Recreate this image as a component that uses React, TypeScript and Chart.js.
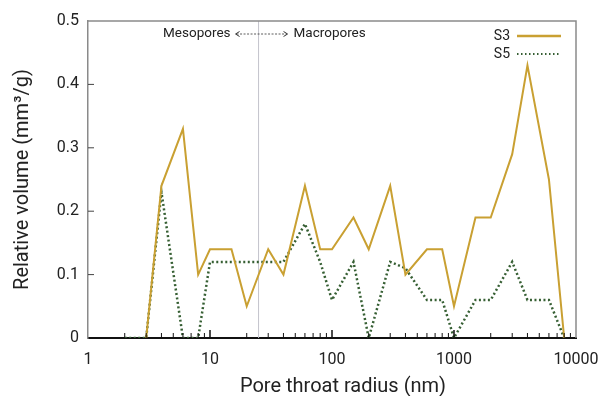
import React, { useEffect, useRef } from "react";
import { Chart, registerables } from "chart.js";

Chart.register(...registerables);

const radii = [2, 3, 4, 6, 8, 10, 15, 20, 30, 40, 60, 80, 100, 150, 200, 300, 400, 600, 800, 1000, 1500, 2000, 3000, 4000, 6000, 8000];
const s3Values = [null, 0, 0.24, 0.33, 0.1, 0.14, 0.14, 0.05, 0.14, 0.1, 0.24, 0.14, 0.14, 0.19, 0.14, 0.24, 0.1, 0.14, 0.14, 0.05, 0.19, 0.19, 0.29, 0.43, 0.25, 0];
const s5Values = [0, 0, 0.23, 0, 0, 0.12, 0.12, 0.12, 0.12, 0.12, 0.18, 0.12, 0.06, 0.12, 0, 0.12, 0.11, 0.06, 0.06, 0, 0.06, 0.06, 0.12, 0.06, 0.06, 0];
const xTickLabels = [1, 10, 100, 1000, 10000];
const yTickValues = [0, 0.1, 0.2, 0.3, 0.4, 0.5];
const boundary = 25;
const seriesNames = ["S3", "S5"];
const xTitle = "Pore throat radius (nm)";
const yTitle = "Relative volume (mm³/g)";

const S3_COLOR = "#c9a032";
const S5_COLOR = "#365f33";
const FONT = "Roboto";

const overlayPlugin = {
  id: "overlay",
  beforeDatasetsDraw(chart: any) {
    const { ctx, chartArea, scales } = chart;
    const x = scales.x;
    ctx.save();
    const bx = x.getPixelForValue(boundary);
    ctx.strokeStyle = "#c4c4cc";
    ctx.lineWidth = 1;
    ctx.beginPath();
    ctx.moveTo(bx, chartArea.top);
    ctx.lineTo(bx, chartArea.bottom);
    ctx.stroke();
    ctx.restore();
  },
  afterDraw(chart: any) {
    const { ctx, chartArea, scales } = chart;
    const x = scales.x;
    const y = scales.y;
    ctx.save();
    // frame top & right
    ctx.strokeStyle = "#8a8a8a";
    ctx.lineWidth = 1.5;
    ctx.beginPath();
    ctx.moveTo(chartArea.left, chartArea.top);
    ctx.lineTo(chartArea.right, chartArea.top);
    ctx.lineTo(chartArea.right, chartArea.bottom);
    ctx.stroke();
    // inward x ticks
    ctx.strokeStyle = "#111";
    for (let d = 1; d < 10000; d *= 10) {
      for (let m = 1; m <= 9; m++) {
        const v = d * m;
        if (v <= 1 || v >= 10000) continue;
        const px = x.getPixelForValue(v);
        const major = m === 1;
        ctx.lineWidth = major ? 1.5 : 1;
        ctx.beginPath();
        ctx.moveTo(px, chartArea.bottom);
        ctx.lineTo(px, chartArea.bottom - (major ? 8 : 5));
        ctx.stroke();
      }
    }
    // inward y ticks
    ctx.strokeStyle = "#444";
    ctx.lineWidth = 1;
    for (const v of yTickValues) {
      if (v === 0 || v === 0.5) continue;
      const py = y.getPixelForValue(v);
      ctx.beginPath();
      ctx.moveTo(chartArea.left, py);
      ctx.lineTo(chartArea.left + 6, py);
      ctx.stroke();
    }
    // x title
    ctx.font = `20px ${FONT}`;
    ctx.fillStyle = "#222";
    ctx.textAlign = "center";
    ctx.textBaseline = "middle";
    ctx.fillText(xTitle, (chartArea.left + chartArea.right) / 2 + 11, 387);
    // annotation
    const ay = chartArea.top + 13;
    const bx = x.getPixelForValue(boundary);
    ctx.font = `13.5px ${FONT}`;
    ctx.fillStyle = "#222";
    ctx.textBaseline = "middle";
    ctx.textAlign = "right";
    ctx.fillText("Mesopores", bx - 28, ay);
    ctx.textAlign = "left";
    ctx.fillText("Macropores", bx + 35, ay);
    ctx.strokeStyle = "#333";
    ctx.lineWidth = 0.8;
    ctx.setLineDash([2, 1.5]);
    ctx.beginPath();
    ctx.moveTo(bx - 22, ay);
    ctx.lineTo(bx + 28, ay);
    ctx.stroke();
    ctx.setLineDash([]);
    ctx.lineWidth = 1;
    ctx.beginPath();
    ctx.moveTo(bx - 19, ay - 2.5);
    ctx.lineTo(bx - 23, ay);
    ctx.lineTo(bx - 19, ay + 2.5);
    ctx.moveTo(bx + 25, ay - 2.5);
    ctx.lineTo(bx + 29, ay);
    ctx.lineTo(bx + 25, ay + 2.5);
    ctx.stroke();
    // legend
    const lx = chartArea.right - 59;
    ctx.font = `14px ${FONT}`;
    ctx.textAlign = "right";
    ctx.fillStyle = "#222";
    const rows = [
      { name: seriesNames[0], color: S3_COLOR, dash: [] as number[], width: 2.5, yy: chartArea.top + 15 },
      { name: seriesNames[1], color: S5_COLOR, dash: [1.5, 2.5], width: 2.2, yy: chartArea.top + 33 },
    ];
    for (const r of rows) {
      ctx.fillText(r.name, lx - 7, r.yy);
      ctx.strokeStyle = r.color;
      ctx.lineWidth = r.width;
      ctx.setLineDash(r.dash);
      ctx.beginPath();
      ctx.moveTo(lx, r.yy);
      ctx.lineTo(lx + 44, r.yy);
      ctx.stroke();
    }
    ctx.restore();
  },
};

export default function App() {
  const ref = useRef<HTMLCanvasElement | null>(null);
  useEffect(() => {
    const canvas = ref.current;
    if (!canvas) return;
    const chart = new Chart(canvas, {
      type: "line",
      data: {
        datasets: [
          {
            label: seriesNames[0],
            data: radii.map((r, i) => ({ x: r, y: s3Values[i] })),
            borderColor: S3_COLOR,
            borderWidth: 2,
            pointRadius: 0,
            tension: 0,
            fill: false,
          },
          {
            label: seriesNames[1],
            data: radii.map((r, i) => ({ x: r, y: s5Values[i] })),
            borderColor: S5_COLOR,
            borderWidth: 2.5,
            borderDash: [2, 2.5],
            pointRadius: 0,
            tension: 0,
            fill: false,
          },
        ],
      },
      options: {
        animation: false,
        responsive: false,
        maintainAspectRatio: false,
        layout: { padding: { left: 0, top: 21, right: 27, bottom: 0 } },
        plugins: { legend: { display: false }, tooltip: { enabled: false } },
        scales: {
          x: {
            type: "logarithmic",
            min: 1,
            max: 10000,
            afterBuildTicks: (axis: any) => {
              axis.ticks = xTickLabels.map((v) => ({ value: v }));
            },
            afterFit: (axis: any) => {
              axis.height = 58;
              axis.paddingLeft = 0;
              axis.paddingRight = 0;
            },
            ticks: {
              callback: (v: any) => String(v),
              autoSkip: false,
              maxRotation: 0,
              padding: 12,
              color: "#222",
              font: { family: FONT, size: 16 },
            },
            grid: { display: false, drawTicks: false },
            border: { display: true, color: "#111", width: 2 },
            title: { display: false },
          },
          y: {
            type: "linear",
            min: 0,
            max: 0.5,
            afterBuildTicks: (axis: any) => {
              axis.ticks = yTickValues.map((v) => ({ value: v }));
            },
            afterFit: (axis: any) => {
              axis.width = 88;
              axis.paddingTop = 0;
              axis.paddingBottom = 0;
            },
            ticks: {
              callback: (v: any) => String(Math.round(v * 10) / 10),
              padding: 9,
              color: "#222",
              font: { family: FONT, size: 16 },
            },
            grid: { display: false, drawTicks: false },
            border: { display: true, color: "#8a8a8a", width: 1.5 },
            title: {
              display: true,
              text: yTitle,
              color: "#222",
              font: { family: FONT, size: 20 },
              padding: { top: 11, bottom: 0 },
            },
          },
        },
      },
      plugins: [overlayPlugin],
    } as any);
    return () => chart.destroy();
  }, []);
  return (
    <div style={{ position: "absolute", left: 0, top: 0, width: 603, height: 396, background: "#fff" }}>
      <canvas ref={ref} width={603} height={396} style={{ display: "block", width: 603, height: 396 }} />
    </div>
  );
}
